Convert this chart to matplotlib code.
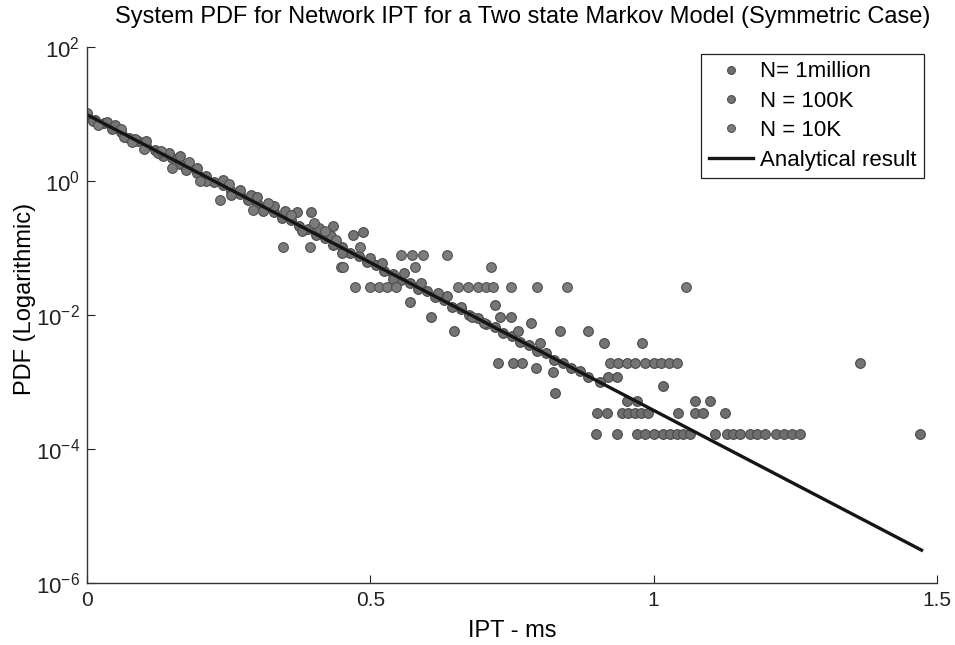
import math
import matplotlib
matplotlib.use('Agg')
import matplotlib.pyplot as plt
from matplotlib.ticker import FixedLocator, FuncFormatter, NullLocator

plt.rcParams['font.family'] = ['Liberation Sans', 'DejaVu Sans']
plt.rcParams['mathtext.fontset'] = 'custom'
plt.rcParams['mathtext.rm'] = 'Liberation Sans'

# N = 1 million: histogram points hugging the analytical curve, plus the sparse tail
ipt_1m = [0.000, 0.015, 0.030, 0.045, 0.060, 0.075, 0.090, 0.105, 0.120, 0.135,
          0.150, 0.165, 0.180, 0.195, 0.210, 0.225, 0.240, 0.255, 0.270, 0.285,
          0.300, 0.315, 0.330, 0.345, 0.360, 0.375, 0.390, 0.405, 0.420, 0.435,
          0.450, 0.465, 0.480, 0.495, 0.510, 0.525, 0.540, 0.555, 0.570, 0.585,
          0.600, 0.615, 0.630, 0.645, 0.660, 0.675, 0.690, 0.705, 0.720, 0.735,
          0.750, 0.765, 0.780, 0.795, 0.810, 0.825, 0.840, 0.855, 0.870, 0.885,
          0.826, 0.899, 0.900, 0.918, 0.935, 0.944, 0.955, 0.967, 0.978, 0.990,
          0.953, 0.970, 0.970, 0.985, 1.000, 1.016, 1.016, 1.029, 1.041, 1.043,
          1.052, 1.064, 1.073, 1.073, 1.087, 1.100, 1.108, 1.126, 1.129, 1.140,
          1.152, 1.170, 1.183, 1.196, 1.217, 1.230, 1.245, 1.258, 1.470, 0.919,
          0.935, 0.905]
pdf_1m = [9.9, 8.2, 7.4, 6.0, 5.4, 4.4, 4.0, 3.3, 2.95, 2.4,
          2.2, 1.78, 1.6, 1.32, 1.18, 0.96, 0.87, 0.71, 0.64, 0.52,
          0.47, 0.39, 0.35, 0.285, 0.26, 0.21, 0.19, 0.155, 0.14, 0.113,
          0.104, 0.084, 0.076, 0.062, 0.056, 0.046, 0.041, 0.0335, 0.0305, 0.0248,
          0.0225, 0.0183, 0.0166, 0.0134, 0.0122, 0.0099, 0.0090, 0.0073, 0.0066, 0.0054,
          0.0049, 0.0040, 0.0036, 0.0029, 0.0027, 0.0021, 0.00196, 0.0016, 0.00145, 0.0012,
          6.9e-4, 1.7e-4, 3.4e-4, 3.4e-4, 1.7e-4, 3.4e-4, 3.4e-4, 3.4e-4, 3.4e-4, 3.4e-4,
          5.2e-4, 5.2e-4, 1.7e-4, 1.7e-4, 1.7e-4, 1.7e-4, 8.7e-4, 1.7e-4, 1.7e-4, 3.4e-4,
          1.7e-4, 1.7e-4, 3.4e-4, 5.2e-4, 3.4e-4, 5.2e-4, 1.7e-4, 3.4e-4, 1.7e-4, 1.7e-4,
          1.7e-4, 1.7e-4, 1.7e-4, 1.7e-4, 1.7e-4, 1.7e-4, 1.7e-4, 1.7e-4, 1.7e-4, 1.2e-3,
          1.2e-3, 1.0e-3]

# N = 100K
ipt_100k = [0.010, 0.035, 0.049, 0.065, 0.085, 0.105, 0.125, 0.145, 0.164, 0.175,
            0.194, 0.210, 0.240, 0.255, 0.270, 0.290, 0.300, 0.310, 0.330, 0.350,
            0.370, 0.380, 0.396, 0.410, 0.430, 0.434, 0.450, 0.470, 0.487, 0.500,
            0.520, 0.540, 0.560, 0.570, 0.590, 0.608, 0.620, 0.635, 0.648, 0.660,
            0.680, 0.700, 0.720, 0.729, 0.748, 0.760, 0.783, 0.800, 0.835, 0.884,
            0.912, 0.980, 0.725, 0.752, 0.767, 0.793, 0.822, 0.923, 0.938, 0.953,
            0.967, 0.985, 1.000, 1.013, 1.027, 1.041, 1.364]
pdf_100k = [8.0, 7.6, 6.9, 4.6, 4.3, 3.9, 2.6, 2.6, 2.4, 1.45,
            1.55, 1.0, 1.03, 0.62, 0.74, 0.62, 0.58, 0.36, 0.42, 0.36,
            0.35, 0.18, 0.35, 0.2, 0.15, 0.21, 0.085, 0.156, 0.175, 0.07,
            0.06, 0.034, 0.042, 0.0158, 0.03, 0.0094, 0.021, 0.019, 0.0057, 0.0133,
            0.0095, 0.0076, 0.0142, 0.0095, 0.0095, 0.0057, 0.0076, 0.0038, 0.0057, 0.0057,
            0.0038, 0.0038, 0.0019, 0.0019, 0.0019, 0.0016, 0.0014, 0.0019, 0.0019, 0.0019,
            0.0019, 0.0019, 0.0019, 0.0019, 0.0019, 0.0019, 0.0019]

# N = 10K
ipt_10k = [0.000, 0.020, 0.060, 0.080, 0.100, 0.130, 0.150, 0.180, 0.200, 0.235,
           0.250, 0.293, 0.320, 0.346, 0.360, 0.394, 0.400, 0.420, 0.440, 0.449,
           0.452, 0.482, 0.473, 0.500, 0.515, 0.530, 0.545, 0.555, 0.573, 0.593,
           0.636, 0.579, 0.655, 0.672, 0.690, 0.705, 0.717, 0.714, 0.749, 0.794,
           0.847, 1.057]
pdf_10k = [10.5, 6.9, 6.0, 3.8, 3.0, 2.8, 1.56, 1.9, 1.0, 0.52,
           0.9, 0.37, 0.47, 0.105, 0.31, 0.105, 0.24, 0.18, 0.13, 0.053,
           0.053, 0.105, 0.026, 0.026, 0.026, 0.026, 0.026, 0.079, 0.079, 0.079,
           0.079, 0.053, 0.026, 0.026, 0.026, 0.026, 0.026, 0.053, 0.026, 0.026,
           0.026, 0.026]

# analytical exponential PDF, straight on the log axis
ipt_line = [0.0, 1.473]
pdf_line = [9.8, 3.1e-6]

fig = plt.figure(figsize=(9.55, 6.45), dpi=100)
ax = fig.add_axes([0.091, 0.096, 0.890, 0.831])

ax.plot(ipt_1m, pdf_1m, 'o', ms=7, color='#6e6e6e', mec='#4a4a4a', mew=0.8,
        label='N= 1million')
ax.plot(ipt_100k, pdf_100k, 'o', ms=7, color='#747474', mec='#4a4a4a', mew=0.8,
        label='N = 100K')
ax.plot(ipt_10k, pdf_10k, 'o', ms=7, color='#7c7c7c', mec='#505050', mew=0.8,
        label='N = 10K')
ax.plot(ipt_line, pdf_line, '-', color='#151515', lw=2.4, label='Analytical result')

ax.set_yscale('log')
ax.set_xlim(0, 1.5)
ax.set_ylim(1e-6, 1e2)

ax.xaxis.set_major_locator(FixedLocator([0, 0.5, 1, 1.5]))
ax.xaxis.set_major_formatter(FuncFormatter(lambda v, p: '%g' % v))
ax.yaxis.set_major_locator(FixedLocator([1e-6, 1e-4, 1e-2, 1e0, 1e2]))
ax.yaxis.set_minor_locator(NullLocator())
ax.yaxis.set_major_formatter(FuncFormatter(
    lambda v, p: r'$\mathregular{10^{%d}}$' % round(math.log10(v))))

ax.tick_params(direction='in', length=6, width=0.8, colors='#222222', pad=6)
ax.tick_params(axis='x', labelsize=15)
ax.tick_params(axis='y', labelsize=16, pad=5)
for side in ['top', 'right']:
    ax.spines[side].set_visible(False)
for side in ['left', 'bottom']:
    ax.spines[side].set_color('#333333')
    ax.spines[side].set_linewidth(1.0)

title = ax.set_title('System PDF for Network IPT for a Two state Markov Model (Symmetric Case)',
                     fontsize=17, pad=17)
title.set_x(0.513)
ax.set_xlabel('IPT - ms', fontsize=17, labelpad=7)
ax.set_ylabel('PDF (Logarithmic)', fontsize=17)
ax.yaxis.set_label_coords(-0.06, 0.53)

leg = ax.legend(loc='upper right', bbox_to_anchor=(0.985, 0.988), fontsize=16,
                fancybox=False, edgecolor='#222222', framealpha=1,
                handlelength=2.0, handletextpad=0.3, borderpad=0.35,
                labelspacing=0.38, markerscale=0.8, borderaxespad=0)
leg.get_frame().set_linewidth(0.9)

fig.savefig('out.png', dpi=100)
